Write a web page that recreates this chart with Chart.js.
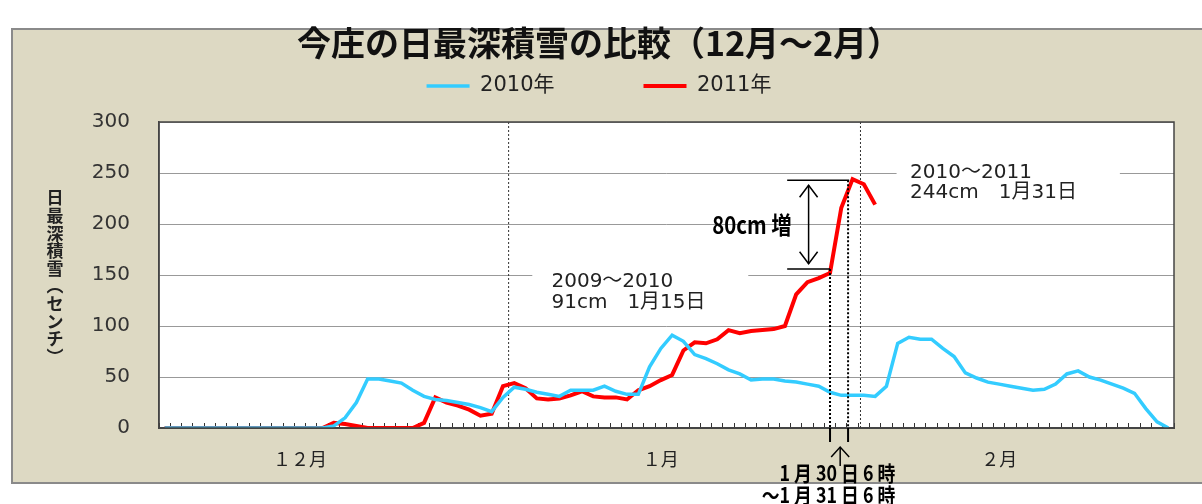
<!DOCTYPE html>
<html>
<head>
<meta charset="utf-8">
<script src="https://cdn.jsdelivr.net/npm/chart.js@4"></script>
<style>
  html, body { margin: 0; padding: 0; background: #fff; }
</style>
</head>
<body>
<canvas id="chart" width="1202" height="504"></canvas>
<script>
// categories: every day from 12/1 to 2/28
var monthNames = ["12月", "1月", "2月"];
var monthDays = [31, 31, 28];
// month labels on the x axis, shown under these day indexes
var monthTickIndex = [12, 44, 74];
var monthTickLabels = ["１２月", "１月", "２月"];

// daily deepest snow (cm)
var snow2010 = [
  0, 0, 0, 0, 0, 0, 0, 0, 0, 0, 0, 0, 0, 0, 0,
  2, 10, 25, 48, 48, 46, 44, 37, 31, 28, 27, 25, 23, 20, 16, 30,
  40, 38, 35, 33, 31, 37, 37, 37, 41, 36, 33, 33, 60, 78, 91, 85,
  72, 68, 63, 57, 53, 47, 48, 48, 46, 45, 43, 41, 35, 32, 32,
  32, 31, 41, 83, 89, 87, 87, 78, 70, 54, 49, 45, 43, 41, 39,
  37, 38, 43, 53, 56, 50, 47, 43, 39, 34, 19, 6, 0
];
var snow2011 = [
  0, 0, 0, 0, 0, 0, 0, 0, 0, 0, 0, 0, 0, 0,
  0, 5, 4, 2, 0, 0, 0, 0, 0, 5, 30, 25, 22, 18, 12, 14, 41,
  44, 39, 29, 28, 29, 32, 36, 31, 30, 30, 28, 37, 41, 47, 52, 76,
  84, 83, 87, 96, 93, 95, 96, 97, 100, 131, 143, 147, 152, 216, 244,
  239, 219
];

var days = [];
monthNames.forEach(function (m, k) {
  for (var d = 1; d <= monthDays[k]; d++) days.push(m + d + "日");
});

var cjk = '"Noto Sans CJK JP", sans-serif';
var latin = '"DejaVu Sans", "Noto Sans CJK JP", sans-serif';

var backdrop = {
  id: "backdrop",
  beforeDraw: function (chart) {
    var c = chart.ctx, a = chart.chartArea;
    c.save();
    c.fillStyle = "#fff";
    c.fillRect(0, 0, chart.width, chart.height);
    c.fillStyle = "#DDD9C3";
    c.fillRect(12, 29, chart.width, 454);
    c.strokeStyle = "#8a8a8a";
    c.lineWidth = 2;
    c.strokeRect(12, 29, chart.width, 454);
    c.fillStyle = "#fff";
    c.fillRect(a.left, a.top, a.right - a.left, a.bottom - a.top);
    c.restore();
  }
};

function arrowHead(c, x, y, dir) {
  c.beginPath();
  c.moveTo(x - 9, y + dir * 12);
  c.lineTo(x, y);
  c.lineTo(x + 9, y + dir * 12);
  c.stroke();
}

// right-aligned bold text, squeezed a little like the original
function narrowText(c, txt, x, y, size) {
  c.save();
  c.translate(x, y);
  c.scale(0.85, 1);
  c.font = "bold " + size + "px " + cjk;
  c.fillText(txt, 0, 0);
  c.restore();
}

var notes = {
  id: "notes",
  beforeDatasetsDraw: function (chart) {
    var c = chart.ctx, a = chart.chartArea;
    var px = function (i) { return chart.scales.x.getPixelForValue(i); };
    var py = function (v) { return chart.scales.y.getPixelForValue(v); };
    c.save();
    // month separators
    c.strokeStyle = "#333";
    c.lineWidth = 1;
    c.setLineDash([2, 2]);
    [30.5, 61.7].forEach(function (i) {
      c.beginPath();
      c.moveTo(px(i), a.top);
      c.lineTo(px(i), a.bottom);
      c.stroke();
    });
    c.setLineDash([]);
    // peak notes on white boxes
    c.fillStyle = "#fff";
    c.fillRect(px(32.6), py(158), px(51.75) - px(32.6), py(112) - py(158));
    c.fillRect(px(64.9), py(262), px(84.7) - px(64.9), py(218) - py(262));
    c.fillStyle = "#222";
    c.font = "20px " + latin;
    c.textAlign = "left";
    c.textBaseline = "middle";
    c.fillText("2009～2010", px(34.3), py(143));
    c.fillText("91cm　1月15日", px(34.3), py(122.5));
    c.fillText("2010～2011", px(66.1), py(250));
    c.fillText("244cm　1月31日", px(66.1), py(230.4));
    c.restore();
  },
  afterDraw: function (chart) {
    var c = chart.ctx, a = chart.chartArea;
    var px = function (i) { return chart.scales.x.getPixelForValue(i); };
    var py = function (v) { return chart.scales.y.getPixelForValue(v); };
    c.save();
    // plot frame
    c.strokeStyle = "#444";
    c.lineWidth = 1.5;
    c.strokeRect(a.left, a.top, a.right - a.left, a.bottom - a.top);

    c.strokeStyle = "#000";
    // rise brackets
    c.lineWidth = 1.5;
    c.beginPath();
    c.moveTo(px(55.2), py(243)); c.lineTo(px(60.7), py(243));
    c.moveTo(px(55.2), py(156)); c.lineTo(px(59.0), py(156));
    c.stroke();
    // double arrow
    var ax = px(57.1);
    c.beginPath();
    c.moveTo(ax, py(238)); c.lineTo(ax, py(161));
    c.stroke();
    arrowHead(c, ax, py(238), 1);
    arrowHead(c, ax, py(161), -1);
    // dotted drop lines
    c.lineWidth = 2;
    c.setLineDash([2, 2]);
    c.beginPath();
    c.moveTo(px(59.0), py(156)); c.lineTo(px(59.0), a.bottom);
    c.moveTo(px(60.6), py(243)); c.lineTo(px(60.6), a.bottom);
    c.stroke();
    c.setLineDash([]);
    c.beginPath();
    c.moveTo(px(59.0), a.bottom); c.lineTo(px(59.0), a.bottom + 14);
    c.moveTo(px(60.6), a.bottom); c.lineTo(px(60.6), a.bottom + 14);
    c.stroke();
    // up arrow under the axis
    var ux = px(59.9);
    c.lineWidth = 1.5;
    c.beginPath();
    c.moveTo(ux, a.bottom + 19); c.lineTo(ux, a.bottom + 38);
    c.stroke();
    c.beginPath();
    c.moveTo(ux - 9, a.bottom + 29); c.lineTo(ux, a.bottom + 19); c.lineTo(ux + 9, a.bottom + 29);
    c.stroke();

    c.fillStyle = "#000";
    c.textBaseline = "middle";
    c.textAlign = "right";
    narrowText(c, "80cm 増", px(55.6), py(199), 24);
    narrowText(c, "1 月 30 日 6 時", px(64.8), a.bottom + 45, 21);
    narrowText(c, "～1 月 31 日 6 時", px(64.8), a.bottom + 67, 21);

    // y axis title, stacked
    var chars = ["日", "最", "深", "積", "雪", "︵", "セ", "ン", "チ", "︶"];
    c.font = "bold 17px " + cjk;
    c.textAlign = "center";
    c.fillStyle = "#222";
    chars.forEach(function (ch, k) {
      c.fillText(ch, 55, 198 + k * 17.6);
    });
    c.restore();
  }
};

var chart = new Chart(document.getElementById("chart"), {
  type: "line",
  data: {
    labels: days,
    datasets: [
      {
        label: "2010年",
        data: snow2010,
        borderColor: "#33CCFF",
        backgroundColor: "#33CCFF",
        borderWidth: 3.5,
        pointRadius: 0,
        tension: 0
      },
      {
        label: "2011年",
        data: snow2011,
        borderColor: "#FF0000",
        backgroundColor: "#FF0000",
        borderWidth: 4,
        pointRadius: 0,
        tension: 0
      }
    ]
  },
  options: {
    responsive: false,
    animation: false,
    events: [],
    layout: { padding: { left: 24, right: 28, top: 0, bottom: 0 } },
    plugins: {
      title: {
        display: true,
        text: "今庄の日最深積雪の比較（12月～2月）",
        color: "#111",
        font: { family: cjk, size: 34, weight: "bold", lineHeight: 1 },
        padding: { top: 26, bottom: 0 }
      },
      legend: {
        display: true,
        labels: {
          color: "#222",
          font: { family: latin, size: 21 },
          usePointStyle: true,
          pointStyle: "line",
          pointStyleWidth: 43,
          padding: 15.5,
          generateLabels: function (chart) {
            var items = Chart.defaults.plugins.legend.labels.generateLabels(chart);
            items[0].text += "\u3000\u3000\u3000\u2002";
            return items;
          }
        }
      },
      subtitle: {
        display: true,
        text: "",
        weight: 500,
        font: { size: 1, lineHeight: 1 },
        padding: { top: 0, bottom: 14.5 }
      },
      tooltip: { enabled: false }
    },
    scales: {
      x: {
        type: "category",
        offset: true,
        afterFit: function (s) { s.height = 76; },
        grid: {
          offset: true,
          drawOnChartArea: false,
          drawTicks: true,
          tickLength: -5,
          color: "#333",
          lineWidth: 1
        },
        border: { color: "#444", width: 2 },
        ticks: {
          autoSkip: false,
          maxRotation: 0,
          padding: 25,
          color: "#222",
          font: { family: cjk, size: 18 },
          callback: function (v, i) {
            var k = monthTickIndex.indexOf(i);
            return k < 0 ? "" : monthTickLabels[k];
          }
        }
      },
      y: {
        min: 0,
        max: 300,
        afterFit: function (s) { s.width = 135; },
        grid: { color: "#999", lineWidth: 1, drawTicks: false },
        border: { color: "#444", width: 1.5 },
        ticks: {
          stepSize: 50,
          padding: 29,
          color: "#333",
          font: { family: latin, size: 20 }
        }
      }
    }
  },
  plugins: [backdrop, notes]
});
</script>
</body>
</html>
